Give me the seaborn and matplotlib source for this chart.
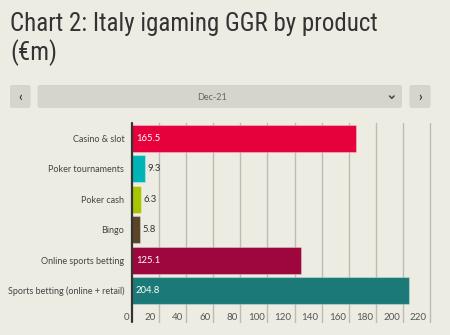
import matplotlib
matplotlib.use("Agg")
import matplotlib.pyplot as plt
import matplotlib.transforms as mtransforms
from matplotlib.patches import FancyBboxPatch
from matplotlib.lines import Line2D
from matplotlib import font_manager
import seaborn as sns
import pandas as pd

categories = ["Casino & slot", "Poker tournaments", "Poker cash", "Bingo",
              "Online sports betting", "Sports betting (online + retail)"]
values = [165.5, 9.3, 6.3, 5.8, 125.1, 204.8]
value_labels = ["165.5", "9.3", "6.3", "5.8", "125.1", "204.8"]
colors = ["#e6003c", "#00b4b6", "#a9c400", "#5b4428", "#9e063e", "#1b7a78"]
x_ticks = [0, 20, 40, 60, 80, 100, 120, 140, 160, 180, 200, 220]
title = "Chart 2: Italy igaming GGR by product\n(€m)"
period = "Dec-21"

BG = "#edece2"
GRID = "#bdbcb0"
W, H = 450, 335

sns.set_theme(style="white")
plt.rcParams["font.family"] = ["Lato", "DejaVu Sans"]

# pick a condensed font for the title if one is installed
title_family = "DejaVu Sans"
for cand in ["Liberation Sans Narrow", "Roboto Condensed", "Open Sans Condensed",
             "DejaVu Sans Condensed", "Noto Sans Condensed"]:
    try:
        font_manager.findfont(font_manager.FontProperties(family=cand),
                              fallback_to_default=False)
        title_family = cand
        break
    except Exception:
        pass

fig = plt.figure(figsize=(W / 100, H / 100), dpi=100, facecolor=BG)

def fx(px):
    return px / W

def fy(py):
    return 1 - py / H

# Title
t = fig.text(fx(10), fy(12.5), title, fontsize=21, color="#333333",
             family=[title_family, "DejaVu Sans"], fontstretch="condensed",
             va="top", ha="left", linespacing=1.12)
# fit first line width to the reference (~368 px)
fig.canvas.draw()
probe = fig.text(0, 0, title.split("\n")[0], fontsize=21,
                 family=[title_family, "DejaVu Sans"], fontstretch="condensed")
wpx = probe.get_window_extent(fig.canvas.get_renderer()).width
probe.remove()
if wpx > 372:
    t.set_fontsize(21 * 368 / wpx)

# Controls
def box(x0, y0, x1, y1):
    p = FancyBboxPatch((fx(x0), fy(y1)), fx(x1 - x0), fy(y0) - fy(y1),
                       boxstyle="round,pad=0,rounding_size=0.006",
                       transform=fig.transFigure, facecolor="#d6d5cb",
                       edgecolor="none")
    fig.add_artist(p)

box(10, 85, 30.5, 108)
box(37.5, 85, 402, 108)
box(409.5, 85, 430.5, 108)
fig.text(fx(212), fy(97), period, fontsize=6.5, color="#666666",
         ha="center", va="center")
fig.text(fx(20), fy(96.5), "‹", fontsize=9, color="#333333",
         ha="center", va="center", fontweight="bold")
fig.text(fx(420), fy(96.5), "›", fontsize=9, color="#333333",
         ha="center", va="center", fontweight="bold")
fig.add_artist(Line2D([fx(389.5), fx(391.8), fx(394.1)], [fy(96), fy(98.3), fy(96)],
                      transform=fig.transFigure, color="#444444", lw=1.1))

# Axes
ax = fig.add_axes([fx(132), fy(306), fx(430) - fx(132), fy(123) - fy(306)])
ax.set_facecolor(BG)

df = pd.DataFrame({"category": categories, "value": values})
sns.barplot(data=df, x="value", y="category", hue="category",
            palette=colors, legend=False, orient="h", width=0.89,
            saturation=1, edgecolor=(1, 1, 1, 0.3), linewidth=0.8,
            ax=ax, zorder=3)

ax.set_xlim(0, 220)
ax.set_ylim(len(categories) - 1 + 0.51, -0.51)
ax.set_xlabel("")
ax.set_ylabel("")
for s in ["top", "right", "bottom", "left"]:
    ax.spines[s].set_visible(False)

# vertical gridlines extending below the plot area
ax.set_xticks(x_ticks)
for tk in x_ticks[1:]:
    ax.add_line(Line2D([tk, tk], [1.0, -0.087], transform=ax.get_xaxis_transform(),
                       color=GRID, lw=1, clip_on=False, zorder=1))
ax.add_line(Line2D([0, 0], [1.0, -0.087], transform=ax.get_xaxis_transform(),
                   color="#333333", lw=1.6, clip_on=False, zorder=5))

ax.tick_params(axis="x", length=0, pad=5, labelsize=7, labelcolor="#555555")
ax.set_xticklabels([str(tk) for tk in x_ticks])
off = mtransforms.ScaledTranslation(-3 / 100, 0, fig.dpi_scale_trans)
for lab in ax.get_xticklabels():
    lab.set_horizontalalignment("right")
    lab.set_transform(lab.get_transform() + off)

ax.tick_params(axis="y", length=0, pad=5.5, labelsize=6.5, labelcolor="#444444")

# value labels
for i, (v, txt) in enumerate(zip(values, value_labels)):
    if v > 50:
        ax.annotate(txt, (0, i), xytext=(4, 0), textcoords="offset pixels",
                    ha="left", va="center", fontsize=6.8, color="white", zorder=6)
    else:
        ax.annotate(txt, (v, i), xytext=(3, 0), textcoords="offset pixels",
                    ha="left", va="center", fontsize=6.8, color="#333333", zorder=6)

fig.savefig("out.png", dpi=100, facecolor=BG)
